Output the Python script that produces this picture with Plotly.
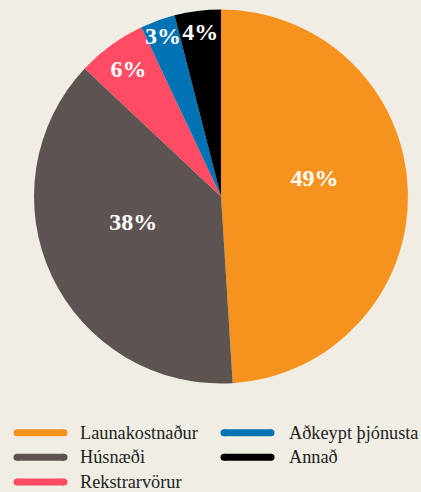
import plotly.graph_objects as go

labels = ["Launakostnaður", "Húsnæði", "Rekstrarvörur", "Aðkeypt þjónusta", "Annað"]
values = [49, 38, 6, 3, 4]
colors = ["#F6921E", "#5D5351", "#FF4B63", "#0073B5", "#000000"]

W, H = 421, 492
BG = "#F0EEE4"
FONT = "Liberation Serif"

templates = ["<b>%{value}%</b><br> ", "<b>%{value}%</b><br> ",
             "<b>%{value}%</b>", "<b>%{value}%</b>", "<b>%{value}%</b>"]

fig = go.Figure(go.Pie(
    labels=labels, values=values, sort=False, direction="clockwise", rotation=0,
    marker=dict(colors=colors, line=dict(width=0)),
    texttemplate=templates, textposition="inside",
    insidetextorientation="horizontal",
    textfont=dict(family=FONT, size=24, color="white"),
    domain=dict(x=[34 / W, 408 / W], y=[1 - 383.5 / H, 1 - 9.5 / H]),
    showlegend=False, hoverinfo="label+percent",
))

# custom legend: two columns, line-like swatches
col_x = [(14, 67, 78), (221, 274, 287)]
row_y = [432.7, 457.3, 482]
shapes, annotations = [], []
for i, (lab, col) in enumerate(zip(labels, colors)):
    c = 0 if i < 3 else 1
    r = i if i < 3 else i - 3
    x0, x1, tx = col_x[c]
    y = row_y[r]
    shapes.append(dict(type="line", xref="paper", yref="paper",
                       x0=(x0 + 3) / W, x1=(x1 - 3) / W, y0=1 - y / H, y1=1 - y / H,
                       line=dict(color=col, width=7)))
    for xc in (x0 + 3, x1 - 3):
        shapes.append(dict(type="circle", xref="paper", yref="paper",
                           x0=(xc - 3.5) / W, x1=(xc + 3.5) / W,
                           y0=1 - (y + 3.5) / H, y1=1 - (y - 3.5) / H,
                           fillcolor=col, line=dict(width=0)))
    annotations.append(dict(text=lab, xref="paper", yref="paper", x=tx / W, y=1 - y / H,
                            xanchor="left", yanchor="middle", showarrow=False,
                            font=dict(family=FONT, size=18.3, color="#222222")))

fig.update_layout(
    width=W, height=H, margin=dict(l=0, r=0, t=0, b=0),
    paper_bgcolor=BG, plot_bgcolor=BG,
    shapes=shapes, annotations=annotations,
    uniformtext=dict(minsize=24, mode="show"),
)
fig.write_html("out.html", config={"displayModeBar": False},
               post_script="document.body.style.margin='0';document.body.style.overflow='hidden';")
